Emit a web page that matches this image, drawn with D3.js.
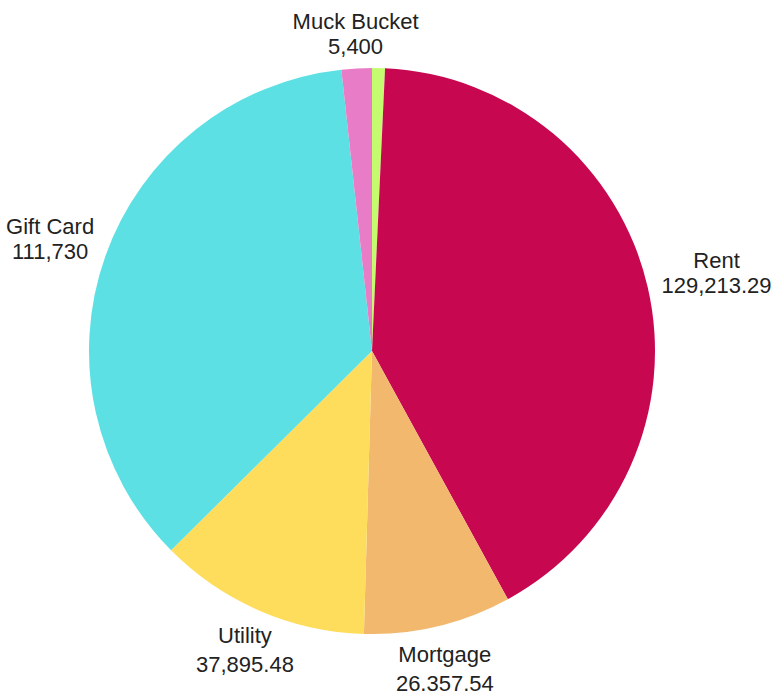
<!DOCTYPE html>
<html>
  <head>
    <meta charset="utf-8">
    <title>pie</title>
    <script src="https://d3js.org/d3.v7.min.js"></script>
    <style>
      body { margin: 0; background: #fff; }
      text { font-family: "Liberation Sans", Arial, sans-serif; font-size: 22px; fill: #222; }
    </style>
  </head>
  <body>
    <svg width="776" height="691"></svg>
    <script>
      // data, clockwise from 12 o'clock
      var categories = ["Other", "Rent", "Mortgage", "Utility", "Gift Card", "Muck Bucket"];
      var values = [2300, 129213.29, 26357.54, 37895.48, 111730, 5400];
      var colors = ["#c5fb6f", "#c70851", "#f2b86e", "#fedd5c", "#5ce0e4", "#e97cc6"];

      var svg = d3.select("svg");
      var cx = 372, cy = 351, radius = 283;
      var g = svg.append("g").attr("transform", "translate(" + cx + "," + cy + ")");

      var color = d3.scaleOrdinal().domain(categories).range(colors);
      var pie = d3.pie().sort(null).value(function(d, i) { return values[i]; });
      var arc = d3.arc().innerRadius(0).outerRadius(radius);
      var total = d3.sum(values);
      var fmt = function(v) { return d3.format(",")(v); };

      var pieData = pie(categories);

      g.selectAll("path")
        .data(pieData)
        .enter()
        .append("path")
        .attr("d", arc)
        .attr("fill", function(d) { return color(d.data); });

      // labels outside; tiny slices (<1%) get none
      var labels = g.selectAll(".lbl")
        .data(pieData.filter(function(d) { return d.value / total >= 0.01; }))
        .enter()
        .append("g")
        .attr("class", "lbl");

      labels.append("text").attr("class", "name").attr("text-anchor", "middle").text(function(d) { return d.data; });
      labels.append("text").attr("class", "val").attr("text-anchor", "middle").text(function(d) { return fmt(d.value); });

      labels.each(function(d) {
        var sel = d3.select(this);
        var w = Math.max(sel.select(".name").node().getComputedTextLength(), sel.select(".val").node().getComputedTextLength());
        var a = (d.startAngle + d.endAngle) / 2;
        var s = Math.sin(a), c = Math.cos(a);
        var r = radius + 17;
        var bx = s * r + s * Math.abs(s) * w / 2;
        var by = -c * r - c * 22 + 3 + 3 * Math.abs(c) - 8 * Math.abs(s);
        var gap = 25 + 4 * Math.max(0, -c);
        sel.select(".name").attr("x", bx).attr("y", by - 6);
        sel.select(".val").attr("x", bx).attr("y", by - 6 + gap);
      });
    </script>
  </body>
</html>
